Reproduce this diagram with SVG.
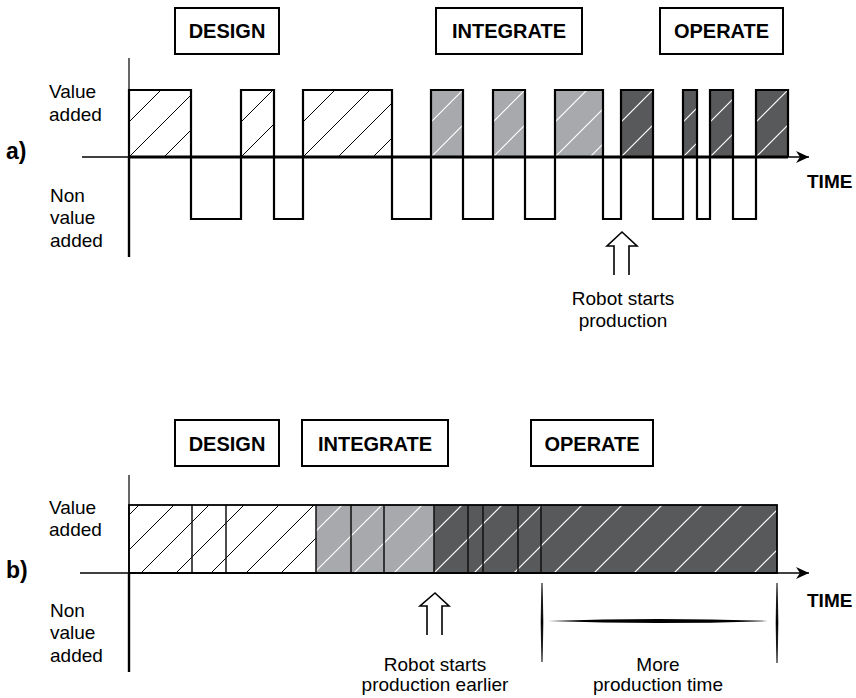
<svg xmlns="http://www.w3.org/2000/svg" width="856" height="698" viewBox="0 0 856 698">
<style>
  text { font-family: "Liberation Sans", Arial, Helvetica, sans-serif; fill: #000; }
  .lbl { font-size: 19px; }
  .bold { font-size: 20px; font-weight: bold; }
  .part { font-size: 23px; font-weight: bold; }
  .time { font-size: 19px; font-weight: bold; }
  .box { fill: #fff; stroke: #000; stroke-width: 2; }
  .wave { fill: none; stroke: #000; stroke-width: 2.2; stroke-linejoin: miter; }
  .light { fill: #a7a9ac; }
  .dark { fill: #58595b; }
  .seg { stroke: #111; stroke-width: 1.5; }
  .ax { stroke: #000; fill: none; }
  .hollow { fill: none; stroke: #000; stroke-width: 1.6; stroke-linejoin: miter; }
</style>
<defs>
  <pattern id="hatchA" width="35" height="35" patternUnits="userSpaceOnUse" patternTransform="translate(-3,0)">
    <path d="M0,35 L35,0 M-5,5 L5,-5 M30,40 L40,30" stroke="#000" stroke-width="1"/>
  </pattern>
  <pattern id="hatchAW" width="35" height="35" patternUnits="userSpaceOnUse" patternTransform="translate(-3,0)">
    <path d="M0,35 L35,0 M-5,5 L5,-5 M30,40 L40,30" stroke="#fff" stroke-width="1.2"/>
  </pattern>
  <pattern id="hatchB" width="35" height="35" patternUnits="userSpaceOnUse" patternTransform="translate(14,0)">
    <path d="M0,35 L35,0 M-5,5 L5,-5 M30,40 L40,30" stroke="#000" stroke-width="1"/>
  </pattern>
  <pattern id="hatchBW" width="40" height="40" patternUnits="userSpaceOnUse" patternTransform="translate(7,0)">
    <path d="M0,40 L40,0 M-5,5 L5,-5 M35,45 L45,35" stroke="#fff" stroke-width="1.2"/>
  </pattern>
  <marker id="arr" markerWidth="14" markerHeight="14" refX="13" refY="7" orient="auto" markerUnits="userSpaceOnUse">
    <path d="M13,7 L0,1 L4,7 L0,13 Z" fill="#000"/>
  </marker>
</defs>

<!-- ============ PART A ============ -->
<g id="part-a">
  <g id="a-label"><text class="part" x="6" y="159">a)</text></g>
  <g id="a-value-added"><text class="lbl" x="49" y="98">Value</text><text class="lbl" x="49" y="121">added</text></g>
  <g id="a-non-value-added"><text class="lbl" x="50" y="202">Non</text><text class="lbl" x="50" y="224">value</text><text class="lbl" x="50" y="247">added</text></g>

  <g id="a-design"><rect class="box" x="175" y="8" width="104" height="46"/><text class="bold" x="227" y="38" text-anchor="middle">DESIGN</text></g>
  <g id="a-integrate"><rect class="box" x="436" y="8" width="146" height="46"/><text class="bold" x="509" y="38" text-anchor="middle">INTEGRATE</text></g>
  <g id="a-operate"><rect class="box" x="660" y="8" width="123" height="46"/><text class="bold" x="721.5" y="38" text-anchor="middle">OPERATE</text></g>

  <!-- pulse fills -->
  <g id="a-pulses">
    <g transform="translate(129,90)"><rect width="62" height="67" fill="#fff"/><rect width="62" height="67" fill="url(#hatchA)"/></g>
    <g transform="translate(241,90)"><rect width="33" height="67" fill="#fff"/><rect width="33" height="67" fill="url(#hatchA)"/></g>
    <g transform="translate(303,90)"><rect width="89" height="67" fill="#fff"/><rect width="89" height="67" fill="url(#hatchA)"/></g>
    <g transform="translate(431,90)"><rect class="light" width="32" height="67"/><rect width="32" height="67" fill="url(#hatchAW)"/></g>
    <g transform="translate(493,90)"><rect class="light" width="32" height="67"/><rect width="32" height="67" fill="url(#hatchAW)"/></g>
    <g transform="translate(555,90)"><rect class="light" width="48" height="67"/><rect width="48" height="67" fill="url(#hatchAW)"/></g>
    <g transform="translate(621,90)"><rect class="dark" width="32" height="67"/><rect width="32" height="67" fill="url(#hatchAW)"/></g>
    <g transform="translate(683,90)"><rect class="dark" width="14" height="67"/><rect width="14" height="67" fill="url(#hatchAW)"/></g>
    <g transform="translate(710,90)"><rect class="dark" width="23" height="67"/><rect width="23" height="67" fill="url(#hatchAW)"/></g>
    <g transform="translate(756,90)"><rect class="dark" width="32" height="67"/><rect width="32" height="67" fill="url(#hatchAW)"/></g>
  </g>

  <g id="a-axes">
    <line class="ax" x1="129" y1="58" x2="129" y2="157" stroke-width="1.2"/>
    <line class="ax" x1="129" y1="157" x2="129" y2="257" stroke-width="2.4"/>
    <line class="ax" x1="82" y1="157" x2="809" y2="157" stroke-width="1.5" marker-end="url(#arr)"/>
    <line class="ax" x1="129" y1="157" x2="788" y2="157" stroke-width="3"/>
  </g>

  <g id="a-wave">
    <path class="wave" d="M129,157 L129,90 L191,90 L191,219 L241,219 L241,90 L274,90 L274,219 L303,219 L303,90 L392,90 L392,219 L431,219 L431,90 L463,90 L463,219 L493,219 L493,90 L525,90 L525,219 L555,219 L555,90 L603,90 L603,219 L621,219 L621,90 L653,90 L653,219 L683,219 L683,90 L697,90 L697,219 L710,219 L710,90 L733,90 L733,219 L756,219 L756,90 L788,90 L788,157"/>
  </g>

  <g id="a-time"><text class="time" x="807" y="188">TIME</text></g>

  <g id="a-robot">
    <path class="hollow" d="M614,275 L614,246 L607,246 L622,232 L637,246 L629,246 L629,275"/>
    <text class="lbl" x="623" y="305" text-anchor="middle">Robot starts</text>
    <text class="lbl" x="623" y="327" text-anchor="middle">production</text>
  </g>
</g>

<!-- ============ PART B ============ -->
<g id="part-b">
  <g id="b-label"><text class="part" x="6" y="578">b)</text></g>
  <g id="b-value-added"><text class="lbl" x="49" y="514">Value</text><text class="lbl" x="49" y="536">added</text></g>
  <g id="b-non-value-added"><text class="lbl" x="50" y="617">Non</text><text class="lbl" x="50" y="639">value</text><text class="lbl" x="50" y="662">added</text></g>

  <g id="b-design"><rect class="box" x="175" y="420" width="104" height="46"/><text class="bold" x="227" y="451" text-anchor="middle">DESIGN</text></g>
  <g id="b-integrate"><rect class="box" x="302" y="420" width="146" height="46"/><text class="bold" x="375" y="451" text-anchor="middle">INTEGRATE</text></g>
  <g id="b-operate"><rect class="box" x="531" y="420" width="122" height="46"/><text class="bold" x="592" y="451" text-anchor="middle">OPERATE</text></g>

  <g id="b-bar">
    <rect x="129" y="505" width="187" height="68" fill="#fff"/>
    <rect x="129" y="505" width="187" height="68" fill="url(#hatchB)"/>
    <rect class="light" x="316" y="505" width="118" height="68"/>
    <rect class="dark" x="434" y="505" width="343" height="68"/>
    <rect x="316" y="505" width="461" height="68" fill="url(#hatchBW)"/>
    <g class="seg">
      <line x1="192" y1="505" x2="192" y2="573"/>
      <line x1="226" y1="505" x2="226" y2="573"/>
      <line x1="316" y1="505" x2="316" y2="573"/>
      <line x1="351" y1="505" x2="351" y2="573"/>
      <line x1="384" y1="505" x2="384" y2="573"/>
      <line x1="434" y1="505" x2="434" y2="573"/>
      <line x1="468" y1="505" x2="468" y2="573"/>
      <line x1="483" y1="505" x2="483" y2="573"/>
      <line x1="518" y1="505" x2="518" y2="573"/>
      <line x1="541" y1="505" x2="541" y2="573"/>
    </g>
    <rect x="129" y="505" width="648" height="68" fill="none" stroke="#000" stroke-width="1.8"/>
  </g>

  <g id="b-axes">
    <line class="ax" x1="129" y1="475" x2="129" y2="573" stroke-width="1.2"/>
    <line class="ax" x1="129" y1="573" x2="129" y2="672" stroke-width="2.4"/>
    <line class="ax" x1="80" y1="573" x2="809" y2="573" stroke-width="1.4" marker-end="url(#arr)"/>
    <line class="ax" x1="129" y1="573" x2="777" y2="573" stroke-width="2.2"/>
  </g>

  <g id="b-time"><text class="time" x="807" y="607">TIME</text></g>

  <g id="b-robot">
    <path class="hollow" d="M427,635 L427,606 L420,606 L435,593 L449,606 L442,606 L442,635"/>
    <text class="lbl" x="435" y="671" text-anchor="middle">Robot starts</text>
    <text class="lbl" x="435" y="691" text-anchor="middle">production earlier</text>
  </g>

  <g id="b-more">
    <path d="M542,583 Q544,622 542,662 Q540,622 542,583 Z" fill="#000" stroke="#000" stroke-width="0.6"/>
    <path d="M777,583 Q779,622 777,663 Q775,622 777,583 Z" fill="#000" stroke="#000" stroke-width="0.6"/>
    <path d="M548,621 Q658,617 768,621 Q658,625 548,621 Z" fill="#000"/>
    <text class="lbl" x="658" y="671" text-anchor="middle">More</text>
    <text class="lbl" x="658" y="691" text-anchor="middle">production time</text>
  </g>
</g>
</svg>
